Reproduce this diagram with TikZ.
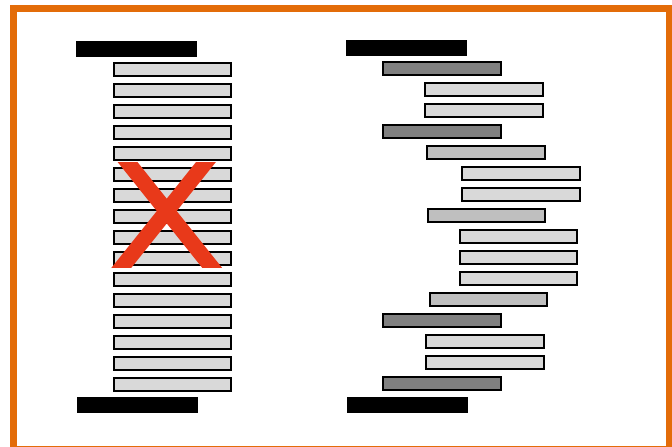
\documentclass[tikz,border=0pt]{standalone}
\usepackage{tikz}
\usepackage{xcolor}
\usetikzlibrary{positioning,calc}

\definecolor{frameorange}{RGB}{227,108,9}
\definecolor{crossred}{RGB}{232,57,26}
\definecolor{barlight}{RGB}{217,217,217}
\definecolor{barmid}{RGB}{191,191,191}
\definecolor{bardark}{RGB}{128,128,128}

\begin{document}
\begin{tikzpicture}[
            x=1pt, y=-1pt,
            bar/.style={rectangle, draw=black, line width=2pt, inner sep=0pt,
                        minimum width=117.5pt, minimum height=13.5pt},
            light/.style={bar, fill=barlight},
            mid/.style={bar, fill=barmid},
            dark/.style={bar, fill=bardark},
            endbar/.style={rectangle, fill=black, inner sep=0pt,
                        minimum width=121pt, minimum height=16pt}
        ]
            \useasboundingbox (0,0) rectangle (672,447);
            % Frame
            \draw[frameorange, line width=7pt] (13.5,8.5) rectangle (669.5,449.5);

            % Left column
            \node[endbar] (ltop) at (136,49) {};
            \node[light] (l1) at (172.5,69.5) {};
            \node[light] (l2) at (172.5,90.5) {};
            \node[light] (l3) at (172.5,111.5) {};
            \node[light] (l4) at (172.5,132.5) {};
            \node[light] (l5) at (172.5,153.5) {};
            \node[light] (l6) at (172.5,174.5) {};
            \node[light] (l7) at (172.5,195.5) {};
            \node[light] (l8) at (172.5,216.5) {};
            \node[light] (l9) at (172.5,237.5) {};
            \node[light] (l10) at (172.5,258.5) {};
            \node[light] (l11) at (172.5,279.5) {};
            \node[light] (l12) at (172.5,300.5) {};
            \node[light] (l13) at (172.5,321.5) {};
            \node[light] (l14) at (172.5,342.5) {};
            \node[light] (l15) at (172.5,363.5) {};
            \node[light] (l16) at (172.5,384.5) {};
            \node[endbar] (lbot) at (137.5,405) {};

            % Cross
            \begin{scope}
                \clip (100,162) rectangle (240,267);
                \draw[crossred, line width=15.5pt] (119.5,152) -- (219.5,277);
                \draw[crossred, line width=15.5pt] (214,152) -- (114,277);
            \end{scope}

            % Right column
            \node[endbar] (rtop) at (406,48) {};
            \node[dark] (r1) at (442,68.5) {};
            \node[light] (r2) at (484,89.5) {};
            \node[light] (r3) at (484,110.5) {};
            \node[dark] (r4) at (442,131.5) {};
            \node[mid] (r5) at (486,152.5) {};
            \node[light] (r6) at (521,173.5) {};
            \node[light] (r7) at (521,194.5) {};
            \node[mid] (r8) at (486.5,215.5) {};
            \node[light] (r9) at (518.5,236.5) {};
            \node[light] (r10) at (518.5,257.5) {};
            \node[light] (r11) at (518.5,278.5) {};
            \node[mid] (r12) at (488.5,299.5) {};
            \node[dark] (r13) at (442,320.5) {};
            \node[light] (r14) at (485,341.5) {};
            \node[light] (r15) at (485,362.5) {};
            \node[dark] (r16) at (442,383.5) {};
            \node[endbar] (rbot) at (407,404.5) {};
        \end{tikzpicture}
\end{document}
